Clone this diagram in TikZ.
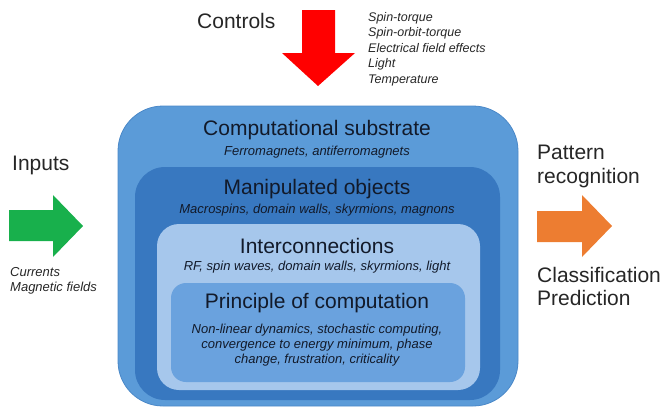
\documentclass[tikz,border=0pt]{standalone}
\usepackage{fontspec}
\setmainfont{Liberation Sans}
\definecolor{outerc}{HTML}{5B9BD8}
\definecolor{outerd}{HTML}{4A88C8}
\definecolor{manipc}{HTML}{3878C0}
\definecolor{interc}{HTML}{A6C7EC}
\definecolor{princc}{HTML}{6AA2DE}
\definecolor{txtc}{HTML}{121A2A}
\definecolor{redc}{HTML}{FF0000}
\definecolor{greenc}{HTML}{18B04C}
\definecolor{orangec}{HTML}{ED7D31}
\tikzset{
  layerbox/.style={rectangle, inner sep=0pt, draw=none},
  titletxt/.style={anchor=base, inner sep=0pt, text=txtc, font=\fontsize{21}{25}\selectfont},
  subtxt/.style={anchor=base, inner sep=0pt, text=txtc, font=\fontsize{13}{15}\selectfont\itshape},
  sidetxt/.style={anchor=base west, inner sep=0pt, text=black!85, font=\fontsize{21}{25}\selectfont},
  smalltxt/.style={anchor=base west, inner sep=0pt, text=black!85, font=\fontsize{12.5}{15}\selectfont\itshape},
}
\begin{document}
\begin{tikzpicture}[x=1pt,y=-1pt]
\useasboundingbox (0,0) rectangle (663,407);
% layered boxes
\node[layerbox, fill=outerc, draw=outerd, line width=0.8pt, rounded corners=45pt, minimum width=400pt, minimum height=300pt] (outer) at (318,256) {};
\node[layerbox, fill=manipc, rounded corners=30pt, minimum width=365pt, minimum height=233pt] (manip) at (317.5,283.5) {};
\node[layerbox, fill=interc, rounded corners=22pt, minimum width=323pt, minimum height=166pt] (inter) at (318.5,307) {};
\node[layerbox, fill=princc, rounded corners=15pt, minimum width=294pt, minimum height=99pt] (princ) at (318,332.5) {};
% box texts
\node[titletxt] (t1) at (317,135) {Computational substrate};
\node[subtxt] (s1) at (317,155) {Ferromagnets, antiferromagnets};
\node[titletxt] (t2) at (317,194) {Manipulated objects};
\node[subtxt] (s2) at (317,213.5) {Macrospins, domain walls, skyrmions, magnons};
\node[titletxt] (t3) at (317,253) {Interconnections};
\node[subtxt] (s3) at (317,270.5) {RF, spin waves, domain walls, skyrmions, light};
\node[titletxt] (t4) at (317,308.5) {Principle of computation};
\node[subtxt] (s4a) at (317,333) {Non-linear dynamics, stochastic computing,};
\node[subtxt] (s4b) at (317,348) {convergence to energy minimum, phase};
\node[subtxt] (s4c) at (317,363) {change, frustration, criticality};
% controls
\node[sidetxt] (controls) at (197,28) {Controls};
\fill[redc] (302,10) -- (335,10) -- (335,53) -- (355,53) -- (318,86) -- (282,53) -- (302,53) -- cycle;
\node[smalltxt] (c1) at (368,21) {Spin-torque};
\node[smalltxt] (c2) at (368,36.5) {Spin-orbit-torque};
\node[smalltxt] (c3) at (368,52) {Electrical field effects};
\node[smalltxt] (c4) at (368,67.5) {Light};
\node[smalltxt] (c5) at (368,83) {Temperature};
% inputs
\node[sidetxt] (inputs) at (12,170) {Inputs};
\fill[greenc] (9,210) -- (53,210) -- (53,195) -- (83,226) -- (53,257) -- (53,241) -- (9,241) -- cycle;
\node[smalltxt, font=\fontsize{13}{15}\selectfont\itshape] (i1) at (10,276) {Currents};
\node[smalltxt, font=\fontsize{13}{15}\selectfont\itshape] (i2) at (10,291) {Magnetic fields};
% outputs
\node[sidetxt] (o1) at (537,159) {Pattern};
\node[sidetxt] (o2) at (537,183) {recognition};
\fill[orangec] (537,211) -- (582,211) -- (582,195) -- (612,226) -- (582,257) -- (582,242) -- (537,242) -- cycle;
\node[sidetxt] (o3) at (537,282) {Classification};
\node[sidetxt] (o4) at (537,305) {Prediction};
\end{tikzpicture}
\end{document}
